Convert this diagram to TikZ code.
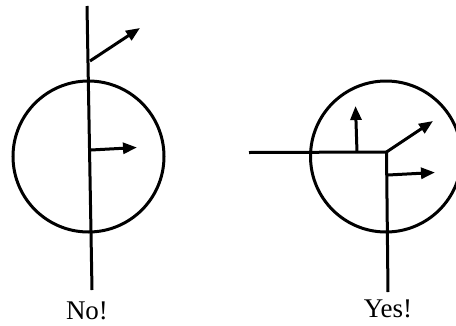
\documentclass[tikz,border=0pt]{standalone}
\usepackage{fontspec}
\setmainfont{Liberation Serif}
\usetikzlibrary{arrows.meta}
\begin{document}
\begin{tikzpicture}[x=1pt,y=-1pt,
  wire/.style={line width=3pt},
  vec/.style={line width=3pt,-{Triangle[length=14pt,width=11pt]}},
  lbl/.style={font=\fontsize{27}{30}\selectfont,anchor=base,inner sep=0pt}]
\useasboundingbox (0,0) rectangle (456,325);
% left ("No!")
\coordinate (c1) at (88.5,156.5);
\coordinate (t1) at (87,6);
\coordinate (b1) at (92,290);
\coordinate (a1s) at (90,61);
\coordinate (a1e) at (140,28);
\coordinate (a2s) at (91,150);
\coordinate (a2e) at (137,147.5);
\draw[wire] (c1) circle[radius=75.5];
\draw[wire] (t1) -- (b1);
\draw[vec] (a1s) -- (a1e);
\draw[vec] (a2s) -- (a2e);
\node[lbl] (no) at (87,319) {No!};
% right ("Yes!")
\coordinate (c2) at (386,156.5);
\coordinate (h0) at (249,152.5);
\coordinate (k) at (386.5,152);
\coordinate (b2) at (388,292);
\coordinate (u1s) at (357,152);
\coordinate (u1e) at (355.5,106);
\coordinate (d1e) at (433,121);
\coordinate (r1s) at (388,175);
\coordinate (r1e) at (435,172.5);
\draw[wire] (c2) circle[radius=75.5];
\draw[wire,line join=miter] (h0) -- (k) -- (b2);
\draw[vec] (u1s) -- (u1e);
\draw[vec] (k) -- (d1e);
\draw[vec] (r1s) -- (r1e);
\node[lbl] (yes) at (388,317) {Yes!};
\end{tikzpicture}
\end{document}
